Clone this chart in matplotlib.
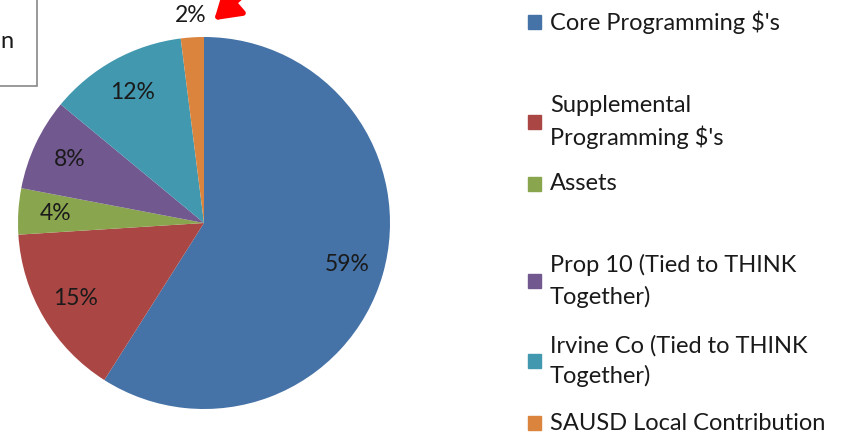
import matplotlib
matplotlib.use("Agg")
import matplotlib.pyplot as plt
from matplotlib.patches import Rectangle
import numpy as np

categories = ["Core Programming $'s",
              "Supplemental\nProgramming $'s",
              "Assets",
              "Prop 10 (Tied to THINK\nTogether)",
              "Irvine Co (Tied to THINK\nTogether)",
              "SAUSD Local Contribution"]
shares = [59, 15, 4, 8, 12, 2]
colors = ["#4572A7", "#AA4643", "#89A54E", "#71588F", "#4198AF", "#DB843D"]

W, H = 846, 436
plt.rcParams['font.family'] = ['Lato', 'DejaVu Sans']

fig = plt.figure(figsize=(W / 100, H / 100), dpi=100)
ax = fig.add_axes([0, 0, 1, 1])
ax.set_aspect('equal')
ax.axis('off')

cx, cy, r = 204, H - 223, 186
wedges, _, autotexts = ax.pie(shares, colors=colors, startangle=90, counterclock=False,
                              center=(cx, cy), radius=r, autopct='%.0f%%', pctdistance=0.8,
                              textprops=dict(fontsize=16.5, color='#1a1a1a'),
                              wedgeprops=dict(linewidth=0))
ax.set_xlim(0, W)
ax.set_ylim(0, H)

# small slice label goes outside the pie
w = wedges[-1]
mid = np.deg2rad((w.theta1 + w.theta2) / 2)
autotexts[-1].set_position((cx + 1.12 * r * np.cos(mid), cy + 1.12 * r * np.sin(mid)))

# legend, placed like the original
leg_y = [22, 122, 184, 281, 361, 423]
for wdg, lab, y in zip(wedges, categories, leg_y):
    ax.add_patch(Rectangle((528, H - y - 7), 13, 14, color=wdg.get_facecolor(), clip_on=False))
    ax.text(550, H - y, lab, fontsize=17, va='center', ha='left', color='#1a1a1a',
            linespacing=1.5)

# callout box cut off on the left
ax.add_patch(Rectangle((-10, H - 86), 47, 100, fill=False, edgecolor='#888888', lw=1.2, clip_on=False))
ax.text(0, H - 42, "n", fontsize=17, va='center', ha='left', color='#1a1a1a')

# red arrow pointing at the 2% slice
ax.annotate("", xy=(212, H - 22), xytext=(242, H + 4),
            arrowprops=dict(arrowstyle='-|>,head_length=1.1,head_width=0.7', color='red',
                            lw=4, mutation_scale=14))

fig.savefig("out.png", dpi=100)
